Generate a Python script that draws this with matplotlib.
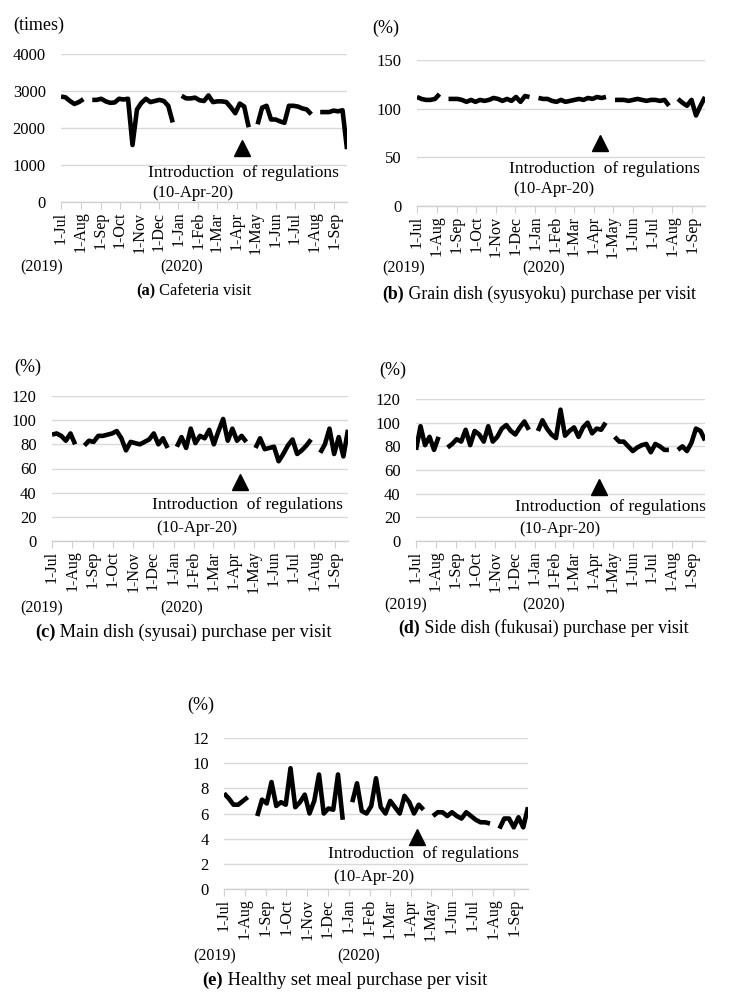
import numpy as np
import pandas as pd
import matplotlib
matplotlib.use('Agg')
import matplotlib.pyplot as plt
import matplotlib.dates as mdates

plt.rcParams['font.family'] = ['Liberation Serif', 'DejaVu Serif']

W, H = 729, 1005
nan = np.nan

# weekly data, first week starting 1-Jul-2019, nan = no data that week
weeks = pd.date_range('2019-07-01', periods=65, freq='7D')

visits = [2850, 2830, 2730, 2650, 2700, 2780, nan,
          2760, 2760, 2790, 2720, 2680, 2690, 2790, 2770, 2790, 1540, 2500, 2680, 2790, 2700, 2730, 2760, 2730, 2600, 2150, nan,
          2870, 2800, 2800, 2820, 2750, 2730, 2880, 2700, 2720, 2720, 2700, 2560, 2400, 2660, 2580, 2020, nan,
          2100, 2550, 2600, 2230, 2230, 2180, 2140, 2600, 2600, 2580, 2530, 2500, 2370, nan,
          2430, 2430, 2430, 2470, 2450, 2480, 1430]
grain = [112, 110, 109, 109, 110, 115, nan,
         110, 110, 110, 109, 107, 109, 107, 109, 108, 109, 111, 110, 108, 110, 108, 112, 107, 113, 112, nan,
         111, 110, 110, 108, 107, 109, 107, 108, 109, 110, 109, 111, 110, 112, 111, 112, nan,
         109, 109, 109, 108, 109, 110, 109, 108, 109, 109, 108, 109, 103, nan,
         110, 106, 103, 109, 93, 103, 112]
main_dish = [88, 89, 87, 83, 89, 80, nan,
             79, 83, 82, 87, 87, 88, 89, 91, 85, 75, 82, 81, 80, 82, 84, 89, 80, 85, 77, nan,
             78, 86, 77, 93, 81, 87, 85, 92, 80, 91, 101, 83, 93, 83, 87, 82, nan,
             77, 85, 76, 77, 78, 66, 72, 79, 84, 72, 75, 79, 84, nan,
             73, 80, 93, 72, 86, 70, 92]
side_dish = [77, 97, 81, 88, 77, 88, nan,
             79, 82, 86, 84, 94, 81, 93, 90, 84, 97, 84, 88, 95, 98, 93, 90, 96, 101, 94, nan,
             93, 102, 95, 90, 87, 111, 89, 93, 96, 88, 96, 100, 91, 95, 94, 100, nan,
             88, 84, 84, 80, 76, 79, 81, 82, 75, 82, 80, 77, 77, nan,
             77, 80, 76, 83, 95, 93, 85]
healthy = [7.6, 7.2, 6.7, 6.7, 7.0, 7.3, nan,
           5.8, 7.1, 6.8, 8.5, 6.6, 6.9, 6.7, 9.6, 6.5, 6.9, 7.5, 6.0, 7.0, 9.1, 6.0, 6.4, 6.3, 9.1, 5.5, nan,
           6.9, 8.4, 6.2, 6.0, 6.6, 8.8, 6.5, 6.0, 7.0, 6.5, 6.0, 7.4, 6.9, 6.0, 6.7, 6.3, nan,
           5.8, 6.1, 6.1, 5.8, 6.1, 5.8, 5.6, 6.1, 5.8, 5.5, 5.3, 5.3, 5.2, nan,
           4.8, 5.6, 5.6, 4.9, 5.7, 4.9, 6.5]

reg_date = pd.Timestamp('2020-04-10')

# panel settings: (series, ymax, ystep, unit, letter, caption, marker level)
panels = [
    (visits, 4000, 1000, '(times)', '(a)', ' Cafeteria visit', 1450),
    (grain, 150, 50, '(%)', '(b)', ' Grain dish (syusyoku) purchase per visit', 65),
    (main_dish, 120, 20, '(%)', '(c)', ' Main dish (syusai) purchase per visit', 49),
    (side_dish, 120, 20, '(%)', '(d)', ' Side dish (fukusai) purchase per visit', 46),
    (healthy, 12, 2, '(%)', '(e)', ' Healthy set meal purchase per visit', 4.1),
]

# pixel layout: axes box (left, top, right, bottom) and text anchors
boxes = [(61, 54, 347, 202), (417, 60, 705, 206), (52, 396, 348, 541),
         (416, 399, 705, 541), (224, 738, 528, 889)]
unit_pos = [(13, 25), (372, 28), (14, 367), (379, 370), (187, 705)]
y2019 = [(20, 267), (382, 268), (20, 608), (384, 605), (193, 956)]
y2020 = [(160, 267), (522, 268), (160, 608), (522, 605), (337, 956)]
intro_pos = [(148, 173), (509, 169), (152, 505), (515, 507), (328, 854)]
date_pos = [(152, 193), (513, 189), (156, 528), (519, 529), (333, 877)]
cap_pos = [(136, 291), (382, 294), (35, 632), (398, 628), (202, 980)]
cap_size = [11.8, 12.8, 13.2, 12.8, 13.3]


def fx(x):
    return x / W


def fy(y):
    return 1 - y / H


fig = plt.figure(figsize=(W / 100, H / 100), dpi=100)

for i, (vals, ymax, ystep, unit, letter, caption, mk) in enumerate(panels):
    l, t, r, b = boxes[i]
    ax = fig.add_axes([fx(l), fy(b), (r - l) / W, (b - t) / H])
    ax.plot(weeks, np.array(vals, dtype=float), color='black', lw=3.3,
            solid_joinstyle='round', solid_capstyle='butt')
    ax.plot([reg_date], [mk], marker='^', color='black', markersize=12, ls='none')
    ax.set_xlim(weeks[0], weeks[-1])
    ax.set_ylim(0, ymax)
    ax.set_yticks(np.arange(0, ymax + ystep, ystep))
    ax.yaxis.grid(True, color='#d9d9d9', lw=1)
    ax.set_axisbelow(True)
    for s in ['top', 'right', 'left']:
        ax.spines[s].set_visible(False)
    ax.spines['bottom'].set_color('#d0d0d0')
    ax.spines['bottom'].set_linewidth(1)
    ax.xaxis.set_major_locator(mdates.MonthLocator())
    ax.xaxis.set_major_formatter(mdates.DateFormatter('1-%b'))
    ax.tick_params(axis='x', rotation=90, labelsize=11.5, length=5, color='#d0d0d0', pad=2)
    ax.tick_params(axis='y', labelsize=12, length=0, pad=11)
    ax.patch.set_alpha(0)

    fig.text(fx(unit_pos[i][0]), fy(unit_pos[i][1]), unit, fontsize=13, va='center')
    fig.text(fx(y2019[i][0]), fy(y2019[i][1]), '(2019)', fontsize=11.5, va='center')
    fig.text(fx(y2020[i][0]), fy(y2020[i][1]), '(2020)', fontsize=11.5, va='center')
    fig.text(fx(intro_pos[i][0]), fy(intro_pos[i][1]), 'Introduction  of regulations',
             fontsize=12.5, va='center')
    fig.text(fx(date_pos[i][0]), fy(date_pos[i][1]), '(10-Apr-20)', fontsize=12, va='center')
    t1 = fig.text(fx(cap_pos[i][0]), fy(cap_pos[i][1]), letter, fontsize=cap_size[i],
                  fontweight='bold', va='center')
    ax.annotate(caption, xy=(1, 0), xycoords=t1, va='bottom', ha='left',
                fontsize=cap_size[i], annotation_clip=False)

fig.savefig('out.png', dpi=100)
